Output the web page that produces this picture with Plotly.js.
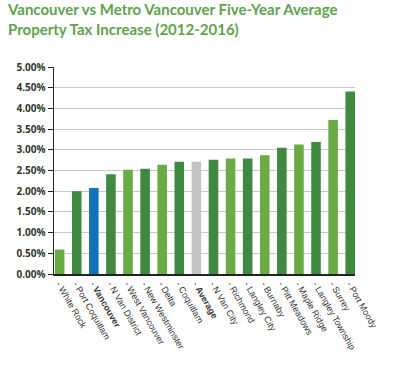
<!DOCTYPE html>
<html>
<head>
<meta charset="utf-8">
<script src="https://cdn.plot.ly/plotly-3.0.1.min.js"></script>
<style>html,body{margin:0;padding:0;background:#fff;}#chart{width:413px;height:365px;}</style>
</head>
<body>
<div id="chart"></div>
<script>
var categories = ["White Rock","Port Coquitlam","Vancouver","N Van District","West Vancouver","New Westminster","Delta","Coquitlam","Average","N Van City","Richmond","Langley City","Burnaby","Pitt Meadows","Maple Ridge","Langley Township","Surrey","Port Moody"];
var values = [0.59,2.00,2.08,2.41,2.52,2.54,2.64,2.71,2.71,2.76,2.79,2.79,2.87,3.05,3.13,3.19,3.72,4.41];
var boldLabels = ["Vancouver","Average"];
var yTickVals = [0,0.5,1,1.5,2,2.5,3,3.5,4,4.5,5];

var LIGHT = "#6aab46", DARK = "#3f8a40", BLUE = "#1273b6", GRAY = "#c3c3c3";
var colors = categories.map(function(c,i){
  if (c === "Vancouver") return BLUE;
  if (c === "Average") return GRAY;
  return (i % 2 === 0) ? LIGHT : DARK;
});
var tickText = categories.map(function(c){
  return boldLabels.indexOf(c) >= 0 ? "- <b>" + c + "</b>" : "- " + c;
});

var trace = {
  type: "bar",
  x: categories.map(function(c,i){return i;}),
  y: values,
  marker: {color: colors, line: {width: 0}},
  hoverinfo: "none"
};

var layout = {
  width: 413, height: 365,
  margin: {l: 54, r: 58, t: 67, b: 91, pad: 0},
  paper_bgcolor: "#fff", plot_bgcolor: "#fff",
  showlegend: false,
  bargap: 0.44,
  title: {
    text: "Vancouver vs Metro Vancouver Five-Year Average<br>Property Tax Increase (2012-2016)",
    x: 8/413, xref: "container", xanchor: "left",
    y: 1 - 15/365, yref: "container", yanchor: "top",
    font: {family: "Lato, 'Open Sans', sans-serif", size: 15, color: "#5fa24f", weight: 700}
  },
  xaxis: {
    range: [-0.33, 17.28],
    tickmode: "array",
    tickvals: categories.map(function(c,i){return i;}),
    ticktext: tickText,
    tickangle: 60,
    ticks: "",
    showgrid: false,
    zeroline: false,
    showline: true, linecolor: "#222", linewidth: 1.5,
    tickfont: {family: "'Liberation Sans', Arial, sans-serif", size: 9, color: "#333"}
  },
  yaxis: {
    range: [0, 5.0],
    tickmode: "array",
    tickvals: yTickVals,
    ticktext: yTickVals.map(function(v){return v.toFixed(2) + "%";}),
    ticks: "outside", ticklen: 5, tickcolor: "#222", tickwidth: 1,
    showline: true, linecolor: "#222", linewidth: 1.5,
    showgrid: true, gridcolor: "#c8c8c8", gridwidth: 1,
    zeroline: false,
    tickfont: {family: "'Open Sans', sans-serif", size: 10, color: "#333", weight: 700}
  }
};

Plotly.newPlot("chart", [trace], layout, {staticPlot: true, displayModeBar: false});
</script>
</body>
</html>
